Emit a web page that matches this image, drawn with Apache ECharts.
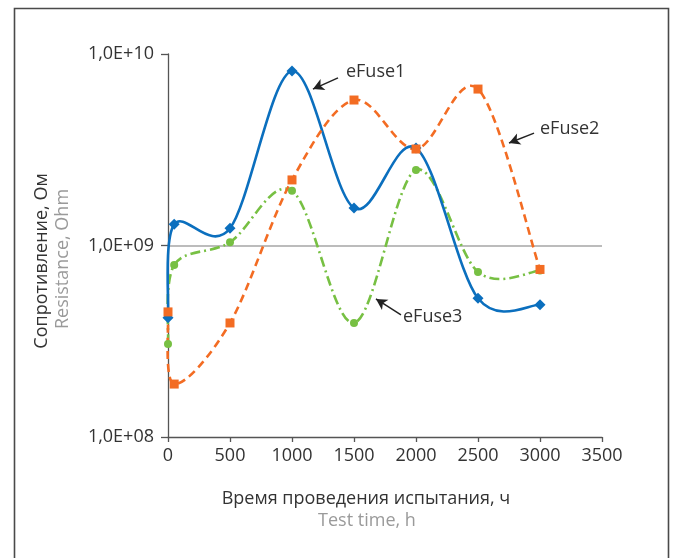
<!DOCTYPE html>
<html>
<head>
<meta charset="utf-8">
<script src="https://cdn.jsdelivr.net/npm/echarts@6/dist/echarts.min.js"></script>
<style>
html,body{margin:0;padding:0;background:#fff;}
#c{width:673px;height:558px;}
</style>
</head>
<body>
<div id="c"></div>
<script>
// ---- data ----
var hours = [0, 50, 500, 1000, 1500, 2000, 2500, 3000];
var eFuse1 = [4.2e8, 1.29e9, 1.23e9, 8.15e9, 1.57e9, 3.23e9, 5.3e8, 4.9e8];
var eFuse2 = [4.5e8, 1.89e8, 3.94e8, 2.2e9, 5.75e9, 3.19e9, 6.56e9, 7.5e8];
var eFuse3 = [3.06e8, 7.9e8, 1.04e9, 1.93e9, 3.94e8, 2.48e9, 7.28e8, 7.4e8];
var xTicks = [0, 500, 1000, 1500, 2000, 2500, 3000, 3500];
var yTicks = [1e8, 1e9, 1e10];
var seriesNames = ['eFuse1', 'eFuse2', 'eFuse3'];
// annotation callouts: [label x, label y, arrow start x, arrow start y, arrow end x, arrow end y] (data units)
var note1 = [1435, 8.06e9, 1371, 7.5e9, 1169, 6.56e9];
var note2 = [3000, 4.06e9, 2952, 3.86e9, 2750, 3.43e9];
var note3 = [1895, 4.24e8, 1879, 4.34e8, 1677, 5.26e8];

function pairs(xs, ys){ return xs.map(function(x,i){ return [x, ys[i]]; }); }

var FONT = 'Open Sans';
var TXT = '#333333';

// Excel-like smoothed curve (cardinal bezier, 1/6 tension) drawn through the
// data points after the library maps them to pixels.
function smoothRender(color, dash){
  return function(params, api){
    if (params.dataIndexInside !== 0) return;
    var n = params.dataInsideLength;
    var p = [];
    for (var j = 0; j < n; j++) p.push(api.coord([api.value(0, j), api.value(1, j)]));
    var d = 'M' + p[0][0] + ' ' + p[0][1];
    for (var i = 0; i < n - 1; i++){
      var a = p[i - 1] || p[i], b = p[i], c = p[i + 1], e = p[i + 2] || p[i + 1];
      var c1x = b[0] + (c[0] - a[0]) / 6, c1y = b[1] + (c[1] - a[1]) / 6;
      var c2x = c[0] - (e[0] - b[0]) / 6, c2y = c[1] - (e[1] - b[1]) / 6;
      d += ' C' + c1x + ' ' + c1y + ' ' + c2x + ' ' + c2y + ' ' + c[0] + ' ' + c[1];
    }
    return {
      type: 'path',
      shape: {pathData: d},
      style: {fill: 'none', stroke: color, lineWidth: 2.6, lineDash: dash, lineCap: 'butt', lineJoin: 'round'}
    };
  };
}

function curve(name, data, color, dash){
  return {
    name: name + ' curve',
    type: 'custom',
    data: pairs(hours, data),
    renderItem: smoothRender(color, dash),
    silent: true,
    clip: false,
    z: 2
  };
}

function markers(name, data, color, symbol, size, n){
  return {
    name: name,
    type: 'scatter',
    data: pairs(hours, data),
    symbol: symbol,
    symbolSize: size,
    itemStyle: {color: color, opacity: 1},
    emphasis: {disabled: true},
    z: 3,
    markLine: {
      silent: true,
      symbol: ['none', 'arrow'],
      symbolSize: [9, 11],
      label: {show: false},
      lineStyle: {color: '#222', width: 1.5, type: 'solid'},
      emphasis: {disabled: true},
      data: [[{coord: [n[2], n[3]]}, {coord: [n[4], n[5]]}]]
    },
    markPoint: {
      silent: true,
      symbol: 'circle',
      symbolSize: 0,
      label: {show: true, position: 'right', distance: 0, formatter: name,
              fontFamily: FONT, fontSize: 18, color: TXT},
      data: [{coord: [n[0], n[1]]}]
    }
  };
}

var C1 = '#0b6fbe', C2 = '#f36c23', C3 = '#77c043';
var chart = echarts.init(document.getElementById('c'), null, {renderer: 'canvas'});
var option = {
  animation: false,
  backgroundColor: '#ffffff',
  textStyle: {fontFamily: FONT},
  grid: {left: 168, top: 54, right: 71, bottom: 121, containLabel: false},
  xAxis: {
    type: 'value', min: xTicks[0], max: xTicks[xTicks.length-1], interval: 500,
    axisLine: {show: true, lineStyle: {color: '#555', width: 1.3}},
    axisTick: {show: true, inside: false, length: 5, lineStyle: {color: '#555', width: 1.3}},
    axisLabel: {fontFamily: FONT, fontSize: 18, color: TXT, margin: 10,
      formatter: function(v){ return String(v); }},
    splitLine: {show: false}
  },
  yAxis: {
    type: 'log', logBase: 10, min: yTicks[0], max: yTicks[yTicks.length-1],
    axisLine: {show: true, lineStyle: {color: '#555', width: 1.3}},
    axisTick: {show: true, inside: false, length: 7, lineStyle: {color: '#555', width: 1.3}},
    axisLabel: {fontFamily: FONT, fontSize: 18, color: TXT, margin: 14,
      formatter: function(v){ var e = Math.round(Math.log10(v)); return '1,0E+' + (e < 10 ? '0' : '') + e; }},
    splitLine: {show: true, lineStyle: {color: ['rgba(0,0,0,0)', '#a6a6a6', 'rgba(0,0,0,0)'], width: 1.5}}
  },
  graphic: [
    {type: 'rect', left: 12, top: 6, shape: {width: 654, height: 620},
     style: {fill: 'none', stroke: '#4a4a4a', lineWidth: 1.6}, silent: true},
    {type: 'text', x: 366, y: 499, style: {text: 'Время проведения испытания, ч', fontFamily: FONT, fontSize: 18,
      fill: TXT, align: 'center', verticalAlign: 'middle'}},
    {type: 'text', x: 367, y: 521, style: {text: 'Test time, h', fontFamily: FONT, fontSize: 18,
      fill: '#9a9a9a', align: 'center', verticalAlign: 'middle'}},
    {type: 'text', x: 42, y: 261, rotation: Math.PI/2, style: {text: 'Сопротивление, Ом', fontFamily: FONT, fontSize: 18,
      fill: TXT, align: 'center', verticalAlign: 'middle'}},
    {type: 'text', x: 63, y: 259, rotation: Math.PI/2, style: {text: 'Resistance, Ohm', fontFamily: FONT, fontSize: 18,
      fill: '#9a9a9a', align: 'center', verticalAlign: 'middle'}}
  ],
  series: [
    curve(seriesNames[2], eFuse3, C3, [10, 4, 2, 4]),
    curve(seriesNames[0], eFuse1, C1, null),
    curve(seriesNames[1], eFuse2, C2, [8, 5]),
    markers(seriesNames[2], eFuse3, C3, 'circle', 8, note3),
    markers(seriesNames[0], eFuse1, C1, 'diamond', 11, note1),
    markers(seriesNames[1], eFuse2, C2, 'rect', 9, note2)
  ]
};
chart.setOption(option);
</script>
</body>
</html>
